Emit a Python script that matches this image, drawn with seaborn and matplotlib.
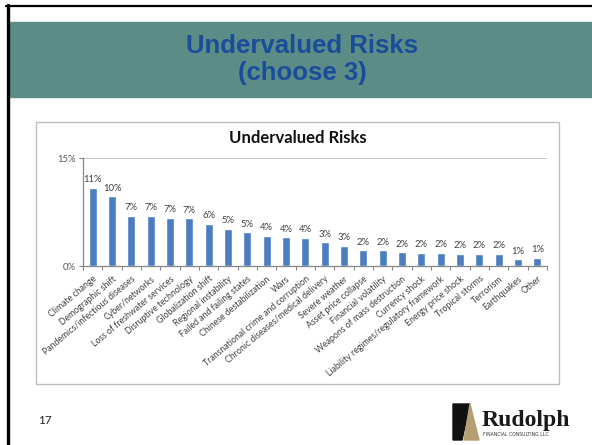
import numpy as np
import pandas as pd
import matplotlib
matplotlib.use('Agg')
import matplotlib.pyplot as plt
from matplotlib.patches import Rectangle, Polygon
from matplotlib.lines import Line2D
import seaborn as sns

sns.set_style('white')
plt.rcParams['font.family'] = ['Lato', 'DejaVu Sans']

# data (percent of respondents)
risks = ['Climate change', 'Demographic shift', 'Pandemics/infectious diseases',
         'Cyber/networks', 'Loss of freshwater services', 'Disruptive technology',
         'Globalization shift', 'Regional instability', 'Failed and failing states',
         'Chinese destabilization', 'Wars', 'Transnational crime and corruption',
         'Chronic diseases/medical delivery', 'Severe weather', 'Asset price collapse',
         'Financial volatility', 'Weapons of mass destruction', 'Currency shock',
         'Liability regimes/regulatory framework', 'Energy price shock',
         'Tropical storms', 'Terrorism', 'Earthquakes', 'Other']
share = [10.9, 9.7, 7.0, 7.0, 6.7, 6.6, 5.9, 5.2, 4.7, 4.2, 4.0, 3.9,
         3.3, 2.8, 2.2, 2.2, 1.9, 1.85, 1.85, 1.7, 1.7, 1.7, 0.97, 1.15]
yticks = [0, 15]
ytick_labels = ['0%', '15%']

df = pd.DataFrame({'risk': risks, 'share': share})

W, H = 592, 445
fig = plt.figure(figsize=(W / 100, H / 100), dpi=100)
fig.patch.set_facecolor('white')


def fx(x):
    return x / W


def fy(y):
    return 1 - y / H


# slide decoration
fig.patches.append(Rectangle((fx(9), fy(97)), fx(W - 9), (97 - 22) / H,
                             transform=fig.transFigure, color='#5B8C85', zorder=0))
fig.lines.append(Line2D([fx(7.5), fx(7.5)], [fy(5), 0], transform=fig.transFigure,
                        color='black', lw=2.4))
fig.lines.append(Line2D([fx(6), 1], [fy(5.5), fy(5.5)], transform=fig.transFigure,
                        color='black', lw=1.6))
fig.text(fx(302), fy(46), 'Undervalued Risks', ha='center', va='center',
         family='Liberation Sans', weight='bold', fontsize=18.5, color='#1A4C9C')
fig.text(fx(302), fy(73), '(choose 3)', ha='center', va='center',
         family='Liberation Sans', weight='bold', fontsize=18.5, color='#1A4C9C')

# chart frame
fig.patches.append(Rectangle((fx(36), fy(384)), (559 - 36) / W, (384 - 122) / H,
                             transform=fig.transFigure, facecolor='white',
                             edgecolor='#BDBDBD', lw=1, zorder=0))
fig.text(fx(298), fy(138), 'Undervalued Risks', ha='center', va='center',
         weight='bold', fontsize=12, color='#111111')

ax = fig.add_axes([fx(83), fy(266), (547 - 83) / W, (266 - 158) / H])
ax.set_zorder(3)
ax.set_facecolor('none')
sns.barplot(data=df, x='risk', y='share', color='#4A7EC0', saturation=1,
            width=0.4, ax=ax)
ax.bar_label(ax.containers[0], labels=[f'{v:.0f}%' for v in df['share']],
             padding=2.5, fontsize=6.8, color='#404040')
ax.set_xlim(-0.5, len(risks) - 0.5)
ax.set_ylim(0, 15)
ax.axhline(15, color='#BFBFBF', lw=1.2, zorder=0)
ax.set_yticks(yticks)
ax.set_yticklabels(ytick_labels, fontsize=6.8, color='#595959')
ax.set_xticks(range(len(risks)))
ax.set_xticklabels(risks, rotation=40, ha='right', rotation_mode='anchor',
                   fontsize=6.3, color='#404040')
ax.set_xticks(np.arange(-0.5, len(risks), 1), minor=True)
ax.tick_params(axis='x', which='major', length=0, pad=6)
ax.tick_params(axis='x', which='minor', length=3, color='#868686', width=0.8,
               direction='out', bottom=True)
ax.tick_params(axis='y', length=3, color='#868686', width=0.8, direction='out',
               left=True, pad=2)
ax.set_xlabel('')
ax.set_ylabel('')
for s in ['top', 'right']:
    ax.spines[s].set_visible(False)
for s in ['left', 'bottom']:
    ax.spines[s].set_color('#868686')
    ax.spines[s].set_linewidth(0.9)

# footer: page number and logo
fig.text(fx(38), fy(421), '17', ha='left', va='center', fontsize=8.5, color='#222222')
fig.patches.append(Polygon([(fx(453), fy(440)), (fx(453), fy(404)), (fx(470), fy(404)),
                            (fx(462), fy(440))], closed=True,
                           transform=fig.transFigure, color='#111111'))
fig.patches.append(Polygon([(fx(470), fy(404)), (fx(464), fy(440)), (fx(479), fy(440))],
                           closed=True, transform=fig.transFigure, color='#B59F72'))
fig.text(fx(482), fy(426), 'Rudolph', ha='left', va='baseline',
         family='Liberation Serif', weight='bold', fontsize=17, color='#1A1A1A')
fig.text(fx(483), fy(434), 'FINANCIAL CONSULTING LLC', ha='left', va='center',
         family='DejaVu Sans', fontsize=3.3, color='#333333')

fig.savefig('out.png', dpi=100)
